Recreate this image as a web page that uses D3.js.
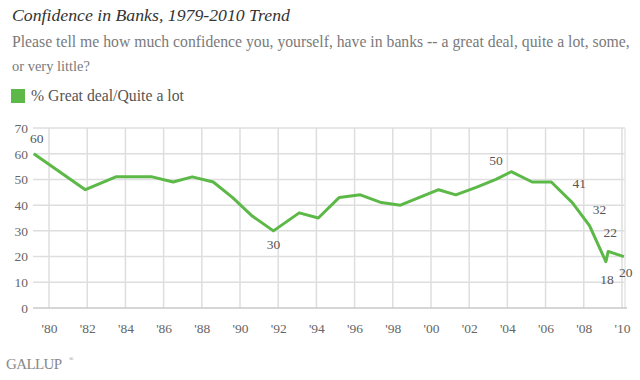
<!DOCTYPE html>
<html><head><meta charset="utf-8">
<script src="https://cdn.jsdelivr.net/npm/d3@7"></script>
<style>body{margin:0;background:#fff}svg{display:block}svg text{font-family:"Liberation Serif",serif}</style>
</head><body>
<script>
const years = [1979.2,1981.9,1983.5,1985.4,1986.5,1987.5,1988.6,1989.6,1990.6,1991.75,1993.1,1994.1,1995.2,1996.3,1997.4,1998.4,1999.4,2000.4,2001.3,2002.4,2003.4,2004.2,2005.3,2006.3,2007.4,2008.3,2009.16,2009.28,2010.1];
const values = [60,46,51,51,49,51,49,43,36,30,37,35,43,44,41,40,43,46,44,47,50,53,49,49,41,32,18,22,20];
const labelIdx = [0,9,20,24,25,27,26,28];
const labelPos = [[3,-11],[0,18],[0,-14],[7,-15],[10,-12],[2,-14],[1,22],[2,20]];
const tickYears = d3.range(1980,2011,2);
const tickLabels = tickYears.map(y=>"'"+String(y).slice(2));
const yTicks = [0,10,20,30,40,50,60,70];

const W=640,H=380;
const svg=d3.select("body").append("svg").attr("width",W).attr("height",H);
const x=d3.scaleLinear().domain([1979.16,2010.16]).range([33,625]);
const y=d3.scaleLinear().domain([0,70]).range([308,128]);

function fit(sel,target){
  const w=sel.node().getComputedTextLength();
  const fs=parseFloat(sel.style("font-size"));
  sel.style("font-size",(fs*target/w).toFixed(2)+"px");
  return sel;
}
fit(svg.append("text").attr("x",12).attr("y",21).style("font-style","italic")
  .style("font-size","15px").attr("fill","#333").text("Confidence in Banks, 1979-2010 Trend"),278);
fit(svg.append("text").attr("x",12).attr("y",47).style("font-size","14px").attr("fill","#7a7a7a")
  .text("Please tell me how much confidence you, yourself, have in banks -- a great deal, quite a lot, some,"),618);
fit(svg.append("text").attr("x",12).attr("y",71).style("font-size","14px").attr("fill","#7a7a7a")
  .text("or very little?"),78);
svg.append("rect").attr("x",11).attr("y",89).attr("width",14).attr("height",14).attr("fill","#5cb947");
fit(svg.append("text").attr("x",31).attr("y",101).style("font-size","13px").attr("fill","#555")
  .text("% Great deal/Quite a lot"),153);

// grid
const g=svg.append("g");
g.selectAll(".hg").data(yTicks.filter(d=>d>0)).join("line")
  .attr("x1",33).attr("x2",625).attr("y1",d=>y(d)).attr("y2",d=>y(d))
  .attr("stroke","#dedede").attr("stroke-width",1.5);
g.selectAll(".vg").data(tickYears).join("line")
  .attr("x1",d=>x(d)).attr("x2",d=>x(d)).attr("y1",128).attr("y2",308)
  .attr("stroke","#dedede").attr("stroke-width",1.5);
g.append("line").attr("x1",625).attr("x2",625).attr("y1",128).attr("y2",308).attr("stroke","#e6e6e6").attr("stroke-width",1.5);
g.append("line").attr("x1",33).attr("x2",627).attr("y1",y(0)).attr("y2",y(0)).attr("stroke","#c8c8c8").attr("stroke-width",1.5);

// axes labels
const yAxis=d3.axisLeft(y).tickValues(yTicks).tickSize(0).tickPadding(0);
const ya=svg.append("g").attr("transform","translate(28,0)").call(yAxis);
ya.select(".domain").remove();
ya.selectAll("text").style("font-family",'"Liberation Serif",serif').style("font-size","13.5px").attr("fill","#666");
const xAxis=d3.axisBottom(x).tickValues(tickYears).tickFormat((d,i)=>tickLabels[i]).tickSize(0).tickPadding(0);
const xa=svg.append("g").attr("transform","translate(0,323)").call(xAxis);
xa.select(".domain").remove();
xa.selectAll("text").style("font-family",'"Liberation Serif",serif').style("font-size","13.5px").attr("fill","#666");

// line
const pts=years.map((d,i)=>[d,values[i]]);
svg.append("path").datum(pts).attr("fill","none").attr("stroke","#5cb947").attr("stroke-width",3)
  .attr("stroke-linejoin","round").attr("d",d3.line().x(d=>x(d[0])).y(d=>y(d[1])));

svg.selectAll(".lbl").data(labelIdx).join("text")
  .attr("x",(d,i)=>x(years[d])+labelPos[i][0]).attr("y",(d,i)=>y(values[d])+labelPos[i][1])
  .attr("text-anchor","middle").style("font-size","13.5px").attr("fill","#555")
  .text(d=>values[d]);

svg.append("text").attr("x",6).attr("y",369).style("font-size","15px").attr("fill","#888")
  .attr("letter-spacing",-0.6).text("GALLUP");
svg.append("text").attr("x",69).attr("y",361).style("font-size","6px").attr("fill","#888").text("®");
</script>
</body></html>
